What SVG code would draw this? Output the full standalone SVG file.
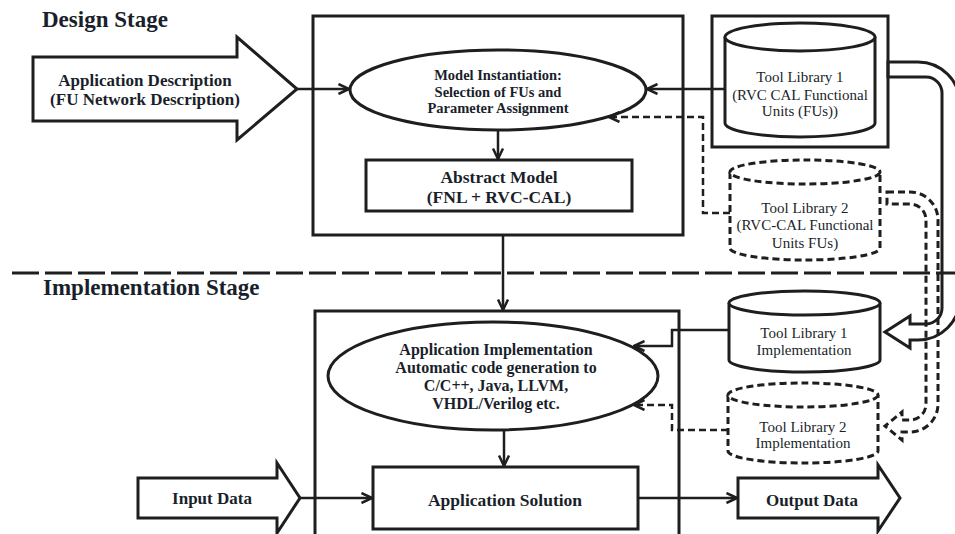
<svg xmlns="http://www.w3.org/2000/svg" width="955" height="534" viewBox="0 0 955 534">
<defs>
<style>
.ln{fill:none;stroke:#1e1e1e;stroke-width:2.5}
.bx{fill:none;stroke:#1e1e1e;stroke-width:3}
.wf{fill:#fff;stroke:#1e1e1e;stroke-width:3}
.ds{stroke-dasharray:7 4}
.b{font-family:"Liberation Serif","Times New Roman",serif;font-weight:bold;fill:#1a1f2b;text-anchor:middle}
.r{font-family:"Liberation Serif","Times New Roman",serif;fill:#1a1f2b;text-anchor:middle;font-size:15px}
.h{font-family:"Liberation Serif","Times New Roman",serif;font-weight:bold;fill:#1a1f2b;font-size:23px}
</style>
<marker id="ah" viewBox="0 0 13 12" refX="11.5" refY="6" markerWidth="13" markerHeight="12" markerUnits="userSpaceOnUse" orient="auto">
<path d="M1,1 L11.5,6 L1,11" fill="none" stroke="#1e1e1e" stroke-width="2.5" stroke-dasharray="none"/>
</marker>
</defs>
<rect width="955" height="534" fill="#fff"/>

<text class="h" x="42" y="27">Design Stage</text>
<text class="h" x="43" y="295">Implementation Stage</text>
<line x1="12" y1="273" x2="955" y2="273" stroke="#1e1e1e" stroke-width="3" stroke-dasharray="27 6"/>

<g id="design-box"><rect class="bx" x="313" y="16" width="370" height="219"/></g>
<g id="impl-box"><rect class="bx" x="315" y="311" width="364" height="240"/></g>

<g id="app-desc">
<polygon class="wf" points="33,57 237,57 237,37 297,89 237,140 237,121 33,121"/>
<text class="b" x="145" y="86" font-size="17px">Application Description</text>
<text class="b" x="145" y="105" font-size="17px">(FU Network Description)</text>
</g>

<g id="model-inst">
<ellipse class="wf" cx="498" cy="90" rx="148" ry="40"/>
<text class="b" x="498" y="80" font-size="14.5px">Model Instantiation:</text>
<text class="b" x="498" y="97" font-size="14.5px">Selection of FUs and</text>
<text class="b" x="498" y="113" font-size="14.5px">Parameter Assignment</text>
</g>

<g id="abstract-model">
<rect class="wf" x="366" y="160" width="266" height="51"/>
<text class="b" x="499" y="183" font-size="17.5px">Abstract Model</text>
<text class="b" x="499" y="203" font-size="17.5px">(FNL + RVC-CAL)</text>
</g>

<g id="tool-lib-1">
<rect class="bx" x="712" y="16" width="176" height="131"/>
<path class="wf" d="M725,37 V123 A75,14 0 0 0 875,123 V37"/>
<ellipse class="wf" cx="800" cy="37" rx="75" ry="14"/>
<text class="r" x="800" y="82">Tool Library 1</text>
<text class="r" x="800" y="100">(RVC CAL Functional</text>
<text class="r" x="800" y="116">Units (FUs))</text>
</g>

<g id="tool-lib-2">
<path class="wf ds" d="M730,172 V248 A75,12 0 0 0 880,248 V172"/>
<ellipse class="wf ds" cx="805" cy="172" rx="75" ry="12"/>
<text class="r" x="805" y="213">Tool Library 2</text>
<text class="r" x="805" y="230">(RVC-CAL Functional</text>
<text class="r" x="805" y="248">Units FUs)</text>
</g>

<g id="app-impl">
<ellipse class="wf" cx="493" cy="376" rx="165" ry="54"/>
<text class="b" x="496" y="355" font-size="16px">Application Implementation</text>
<text class="b" x="496" y="373" font-size="16px">Automatic code generation to</text>
<text class="b" x="496" y="391" font-size="16px">C/C++, Java, LLVM,</text>
<text class="b" x="496" y="409" font-size="16px">VHDL/Verilog etc.</text>
</g>

<g id="app-solution">
<rect class="wf" x="373" y="467" width="265" height="62"/>
<text class="b" x="505" y="506" font-size="17.5px">Application Solution</text>
</g>

<g id="tool-lib-1-impl">
<path class="wf" d="M729,303 V360 A75.5,12 0 0 0 880,360 V303"/>
<ellipse class="wf" cx="804.5" cy="303" rx="75.5" ry="12"/>
<text class="r" x="804" y="338">Tool Library 1</text>
<text class="r" x="804" y="355">Implementation</text>
</g>

<g id="tool-lib-2-impl">
<path class="wf ds" d="M728,395 V451 A75,12 0 0 0 878,451 V395"/>
<ellipse class="wf ds" cx="803" cy="395" rx="75" ry="12"/>
<text class="r" x="803" y="432">Tool Library 2</text>
<text class="r" x="803" y="448">Implementation</text>
</g>

<g id="input-data">
<polygon class="wf" points="138,478 277,478 277,463 300,498 277,533 277,518 138,518"/>
<text class="b" x="212" y="504" font-size="17px">Input Data</text>
</g>

<g id="output-data">
<polygon class="wf" points="738,478 878,478 878,465 900,498 878,531 878,518 738,518"/>
<text class="b" x="812" y="506" font-size="17px">Output Data</text>
</g>

<g id="connectors">
<line class="ln" x1="297" y1="89" x2="349" y2="89" marker-end="url(#ah)"/>
<line class="ln" x1="725" y1="89" x2="647" y2="89" marker-end="url(#ah)"/>
<polyline class="ln ds" points="730,213 703,213 703,117 609,117" marker-end="url(#ah)"/>
<line class="ln" x1="498" y1="130" x2="498" y2="159" marker-end="url(#ah)"/>
<line class="ln" x1="503" y1="235" x2="503" y2="310" marker-end="url(#ah)"/>
<line class="ln" x1="504" y1="430" x2="504" y2="466" marker-end="url(#ah)"/>
<polyline class="ln" points="729,330 672,330 672,346 634,346" marker-end="url(#ah)"/>
<polyline class="ln ds" points="728,430 672,430 672,405 634,405" marker-end="url(#ah)"/>
<line class="ln" x1="300" y1="498" x2="372" y2="498" marker-end="url(#ah)"/>
<line class="ln" x1="638" y1="498" x2="737" y2="498" marker-end="url(#ah)"/>
<path class="bx" d="M888,62 H918 A42,42 0 0 1 960,104 V298 A42,42 0 0 1 918,340 H910 V348 L885,332 L910,316 V324 H926 A16,16 0 0 0 942,308 V93 A16,16 0 0 0 926,77 H888 Z"/>
<path class="bx ds" d="M887,192 H910 A28,28 0 0 1 938,220 V404 A28,28 0 0 1 910,432 H902 V440 L885,426 L902,412 V420 H910 A16,16 0 0 0 926,404 V220 A16,16 0 0 0 910,204 H887 Z"/>
</g>
</svg>
